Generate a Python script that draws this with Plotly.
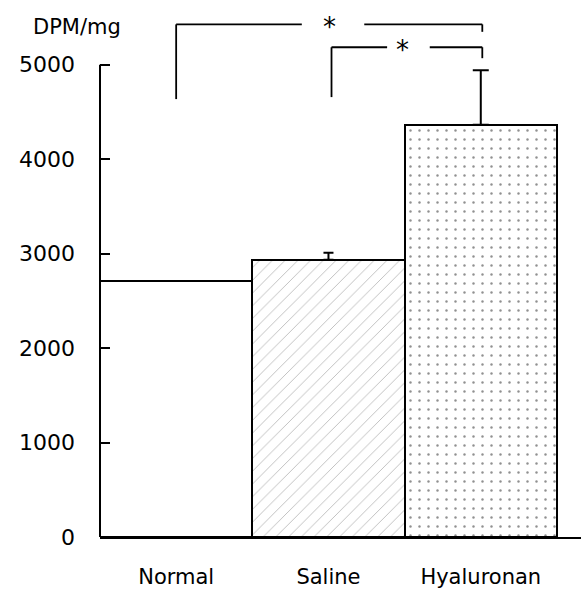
import plotly.graph_objects as go

# ---- data ----
categories = ["Normal", "Saline", "Hyaluronan"]
values = [2713, 2935, 4365]
errors_up = [0, 73, 575]
y_ticks = [0, 1000, 2000, 3000, 4000, 5000]
y_tick_labels = ["0", "1000", "2000", "3000", "4000", "5000"]
y_title = "DPM/mg"
# significance brackets: (from index, to index, top level, left foot, right foot, star)
brackets = [
    (0, 2, 5427, 4636, 5348, "*"),
    (1, 2, 5185, 4657, 5069, "*"),
]

FONT = "DejaVu Sans"
fig = go.Figure()

patterns = [
    dict(shape=""),
    dict(shape="/", fgcolor="#777777", bgcolor="white", size=9, solidity=0.1, fillmode="overlay"),
    dict(shape=".", fgcolor="#222222", bgcolor="white", size=9, solidity=0.06, fillmode="overlay"),
]
cap_w = [0, 5, 8]

for i, c in enumerate(categories):
    fig.add_trace(go.Bar(
        x=[c], y=[values[i]], width=1,
        marker=dict(color="white", line=dict(color="black", width=2), pattern=patterns[i]),
        error_y=dict(type="data", array=[errors_up[i]], arrayminus=[0], symmetric=False,
                     visible=errors_up[i] > 0, color="black", thickness=2, width=cap_w[i]),
        showlegend=False, hoverinfo="skip",
    ))

# y axis line (only up to 5000)
fig.add_shape(type="line", xref="x domain", yref="y", x0=0, x1=0, y0=0, y1=max(y_ticks),
              line=dict(color="black", width=2))

# significance brackets
for (a, b, top, lf, rf, star) in brackets:
    xa = a + (0.02 if a == 1 else 0.0)
    xb = b + 0.01
    mid = (xa + xb) / 2
    gap = 0.18 if a == 0 else 0.13
    lc = dict(color="black", width=1.8)
    fig.add_shape(type="line", xref="x", yref="y", x0=xa, x1=xa, y0=lf, y1=top, line=lc)
    fig.add_shape(type="line", xref="x", yref="y", x0=xa, x1=mid - gap, y0=top, y1=top, line=lc)
    fig.add_shape(type="line", xref="x", yref="y", x0=mid + gap + (0.05 if a == 0 else 0.02), x1=xb, y0=top, y1=top, line=lc)
    fig.add_shape(type="line", xref="x", yref="y", x0=xb, x1=xb, y0=top, y1=rf, line=lc)
    fig.add_annotation(x=mid + (0.0 if a == 0 else -0.03), y=top, xref="x", yref="y", text=star,
                       showarrow=False, font=dict(family=FONT, size=26, color="black"),
                       yanchor="middle", yshift=-3)

fig.add_annotation(x=-0.048, y=5427, xref="x domain", yref="y", text=y_title, showarrow=False,
                   font=dict(family=FONT, size=21, color="black"), xanchor="center", yanchor="middle",
                   yshift=-3)

fig.update_layout(
    width=581, height=589,
    margin=dict(l=100, r=0, t=0, b=50),
    paper_bgcolor="white", plot_bgcolor="white",
    barmode="overlay", bargap=0,
    font=dict(family=FONT, size=22, color="black"),
    xaxis=dict(type="category", range=[-0.5, 2.658], showline=True, linecolor="black", linewidth=2,
               ticks="", showgrid=False, zeroline=False, tickfont=dict(size=21),
               ticklabelstandoff=20),
    yaxis=dict(range=[0, 5685], showline=False, showgrid=False, zeroline=False,
               tickvals=y_ticks, ticktext=y_tick_labels, ticks="inside", ticklen=10,
               tickwidth=2, tickcolor="black", ticklabelstandoff=24, tickfont=dict(size=22)),
)

fig.write_html("out.html", config={"displayModeBar": False},
               post_script="document.body.style.margin='0';document.body.style.overflow='hidden';")
